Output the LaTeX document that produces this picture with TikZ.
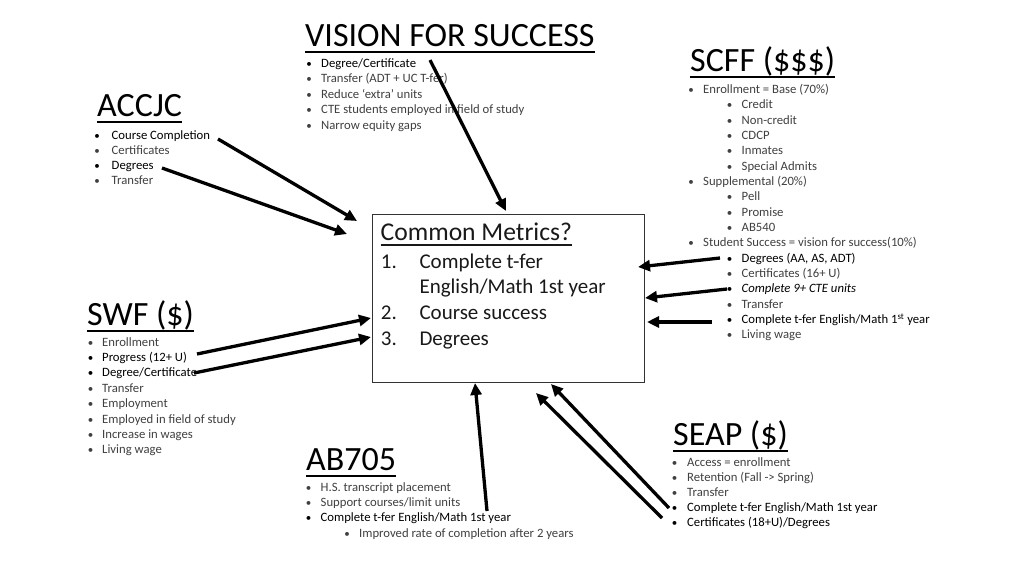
\documentclass[tikz,border=0pt]{standalone}
\usepackage{fontspec}
\setmainfont{Carlito}
\usetikzlibrary{arrows.meta}
\definecolor{txtgray}{HTML}{404040}
\tikzset{
  ttl/.style={font=\fontsize{34}{34}\selectfont, anchor=base west, inner sep=0pt, text=black},
  itm/.style={font=\fontsize{12.7}{13}\selectfont, anchor=base west, inner sep=0pt, text=txtgray},
  bul/.style={font=\fontsize{11}{12}\selectfont, anchor=base, inner sep=0pt},
  uline/.style={line width=2pt, black},
  arr/.style={line width=3.3pt, black, -{Triangle[length=12pt,width=11pt]}},
  boxtxt/.style={font=\fontsize{21}{21}\selectfont, anchor=base west, inner sep=0pt, text=black!90},
  boxttl/.style={boxtxt, font=\fontsize{25.6}{26}\selectfont}
}
\newcommand\mkitem[6]{%
  \node[bul,text=#5] at (#2,#4) {\textbullet};
  \node[itm,text=#5] (#1) at (#3,#4) {#6};}
\begin{document}
\begin{tikzpicture}[x=1pt,y=-1pt]
\useasboundingbox (0,0) rectangle (1024,576);
\fill[white] (0,0) rectangle (1024,576);

% ---------- VISION FOR SUCCESS
\node[ttl] (vis) at (305,46) {VISION FOR SUCCESS};
\draw[uline] ([yshift=-5.5pt]vis.base west) -- ([yshift=-5.5pt]vis.base east);
\mkitem{v1}{309}{321}{67}{black}{Degree/Certificate}
\mkitem{v2}{309}{321}{82.5}{txtgray}{Transfer (ADT + UC T-fer)}
\mkitem{v3}{309}{321}{98}{txtgray}{Reduce ‘extra’ units}
\mkitem{v4}{309}{321}{113.5}{txtgray}{CTE students employed in field of study}
\mkitem{v5}{309}{321}{129}{txtgray}{Narrow equity gaps}

% ---------- SCFF
\node[ttl] (scff) at (690,71.5) {SCFF (\$\$\$)};
\draw[uline] ([yshift=-5.5pt]scff.base west) -- ([yshift=-5.5pt]scff.base east);
\mkitem{s1}{691}{703}{93.3}{txtgray}{Enrollment = Base (70\%)}
\mkitem{s2}{729.5}{741.5}{108.6}{txtgray}{Credit}
\mkitem{s3}{729.5}{741.5}{124}{txtgray}{Non-credit}
\mkitem{s4}{729.5}{741.5}{139.3}{txtgray}{CDCP}
\mkitem{s5}{729.5}{741.5}{154.7}{txtgray}{Inmates}
\mkitem{s6}{729.5}{741.5}{170}{txtgray}{Special Admits}
\mkitem{s7}{691}{703}{185.4}{txtgray}{Supplemental (20\%)}
\mkitem{s8}{729.5}{741.5}{200.8}{txtgray}{Pell}
\mkitem{s9}{729.5}{741.5}{216.1}{txtgray}{Promise}
\mkitem{s10}{729.5}{741.5}{231.5}{txtgray}{AB540}
\mkitem{s11}{691}{703}{246.8}{txtgray}{Student Success = vision for success(10\%)}
\mkitem{s12}{729.5}{741.5}{262.2}{black}{Degrees (AA, AS, ADT)}
\mkitem{s13}{729.5}{741.5}{277.5}{txtgray}{Certificates (16+ U)}
\mkitem{s14}{729.5}{741.5}{292.9}{black}{\itshape Complete 9+ CTE units}
\mkitem{s15}{729.5}{741.5}{308.2}{txtgray}{Transfer}
\mkitem{s16}{729.5}{741.5}{323.6}{black}{Complete t-fer English/Math 1\textsuperscript{st} year}
\mkitem{s17}{729.5}{741.5}{338.9}{txtgray}{Living wage}

% ---------- ACCJC
\node[ttl] (acc) at (97,116.5) {ACCJC};
\draw[uline] ([yshift=-5.5pt]acc.base west) -- ([yshift=-5.5pt]acc.base east);
\mkitem{a1}{97}{111.5}{139.3}{black}{Course Completion}
\mkitem{a2}{97}{111.5}{154.3}{txtgray}{Certificates}
\mkitem{a3}{97}{111.5}{169.3}{black}{Degrees}
\mkitem{a4}{97}{111.5}{184.3}{txtgray}{Transfer}

% ---------- SWF
\node[ttl] (swf) at (87,325.5) {SWF (\$)};
\draw[uline] ([yshift=-5.5pt]swf.base west) -- ([yshift=-5.5pt]swf.base east);
\mkitem{w1}{90.5}{102}{346}{txtgray}{Enrollment}
\mkitem{w2}{90.5}{102}{361.5}{black}{Progress (12+ U)}
\mkitem{w3}{90.5}{102}{376.9}{black}{Degree/Certificate}
\mkitem{w4}{90.5}{102}{392.3}{txtgray}{Transfer}
\mkitem{w5}{90.5}{102}{407.6}{txtgray}{Employment}
\mkitem{w6}{90.5}{102}{423}{txtgray}{Employed in field of study}
\mkitem{w7}{90.5}{102}{438.3}{txtgray}{Increase in wages}
\mkitem{w8}{90.5}{102}{453.7}{txtgray}{Living wage}

% ---------- AB705
\node[ttl] (ab) at (306,470.5) {AB705};
\draw[uline] ([yshift=-5.5pt]ab.base west) -- ([yshift=-5.5pt]ab.base east);
\mkitem{b1}{308.5}{320.5}{491.7}{txtgray}{H.S. transcript placement}
\mkitem{b2}{308.5}{320.5}{506.8}{txtgray}{Support courses/limit units}
\mkitem{b3}{308.5}{320.5}{521.9}{black}{Complete t-fer English/Math 1st year}
\mkitem{b4}{347}{359}{537.2}{txtgray}{Improved rate of completion after 2 years}

% ---------- SEAP
\node[ttl] (seap) at (673,445.5) {SEAP (\$)};
\draw[uline] ([yshift=-5.5pt]seap.base west) -- ([yshift=-5.5pt]seap.base east);
\mkitem{e1}{674.5}{687}{466}{txtgray}{Access = enrollment}
\mkitem{e2}{674.5}{687}{481}{txtgray}{Retention (Fall -> Spring)}
\mkitem{e3}{674.5}{687}{496}{txtgray}{Transfer}
\mkitem{e4}{674.5}{687}{511}{black}{Complete t-fer English/Math 1st year}
\mkitem{e5}{674.5}{687}{526}{black}{Certificates (18+U)/Degrees}

% ---------- Common Metrics box
\node[draw=black!80, line width=1.1pt, minimum width=272pt, minimum height=168pt,
      anchor=north west, inner sep=0pt] (box) at (372,214) {};
\node[boxttl] (cm) at (380.5,240.7) {Common Metrics?};
\draw[line width=1.3pt, black!90] ([yshift=-4.3pt]cm.base west) -- ([yshift=-4.3pt]cm.base east);
\node[boxtxt] (n1) at (380.7,268.3) {1.};
\node[boxtxt] (m1) at (419.3,268.3) {Complete t-fer};
\node[boxtxt] (m1b) at (419.3,293.3) {English/Math 1st year};
\node[boxtxt] (n2) at (380.7,319.3) {2.};
\node[boxtxt] (m2) at (419.3,319.3) {Course success};
\node[boxtxt] (n3) at (380.7,345) {3.};
\node[boxtxt] (m3) at (419.3,345) {Degrees};

% ---------- arrow endpoints
\coordinate (p1s) at (430,60);   \coordinate (p1e) at (506,211);
\coordinate (p2s) at (218,139);  \coordinate (p2e) at (357,221);
\coordinate (p3s) at (162,168);  \coordinate (p3e) at (347,234);
\coordinate (p4s) at (197,354);  \coordinate (p4e) at (371,318);
\coordinate (p5s) at (194,373);  \coordinate (p5e) at (371,337);
\coordinate (p6s) at (487,511);  \coordinate (p6e) at (475,383);
\coordinate (p7s) at (669,508);  \coordinate (p7e) at (551,384);
\coordinate (p8s) at (662,518);  \coordinate (p8e) at (536,393);
\coordinate (p9s) at (720,258);  \coordinate (p9e) at (638,267);
\coordinate (p10s) at (727,289); \coordinate (p10e) at (645,298);
\coordinate (p11s) at (712,322); \coordinate (p11e) at (647,322);

\foreach \i in {1,...,11} { \draw[arr] (p\i s) -- (p\i e); }
\end{tikzpicture}
\end{document}
